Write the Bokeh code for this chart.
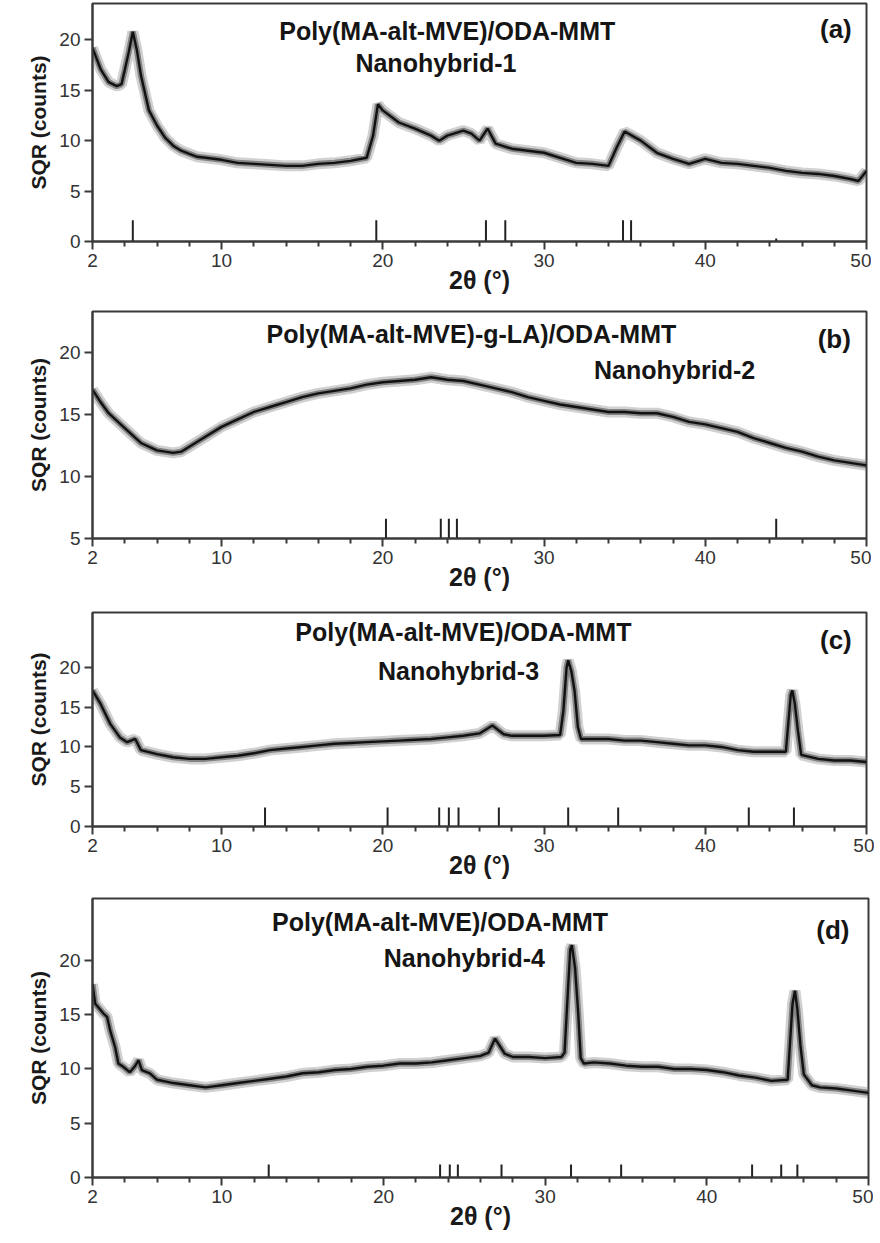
from bokeh.plotting import figure
from bokeh.layouts import column
from bokeh.models import FixedTicker, Range1d, ColumnDataSource
from bokeh.core.properties import value
from bokeh.embed import file_html
from bokeh.resources import INLINE

# ---------------- data ----------------
x_ticks = [2, 10, 20, 30, 40, 50]
x_minor = [4, 6, 8, 12, 14, 16, 18, 22, 24, 26, 28, 32, 34, 36, 38, 42, 44, 46, 48]

# (a) Nanohybrid-1
two_theta_a = [2, 2.5, 3, 3.5, 3.8, 4.0, 4.25, 4.5, 4.75, 5.0, 5.5, 6, 6.5, 7, 7.5, 8, 8.5, 9,
               10, 11, 12, 13, 14, 15, 16, 17, 18, 19, 19.4, 19.7, 20, 21, 22, 23, 23.5, 24, 25,
               25.5, 26, 26.5, 27, 28, 29, 30, 31, 32, 33, 34, 34.5, 35, 36, 37, 38, 39, 40, 41,
               42, 43, 44, 45, 46, 47, 48, 49, 49.5, 50]
sqr_a = [19.2, 17.1, 15.8, 15.4, 15.6, 17.0, 18.8, 20.8, 19.0, 16.5, 13.0, 11.5, 10.3, 9.5, 9.0,
         8.7, 8.4, 8.3, 8.1, 7.8, 7.7, 7.6, 7.5, 7.5, 7.7, 7.8, 8.0, 8.3, 10.5, 13.6, 13.0, 11.8,
         11.2, 10.5, 10.0, 10.5, 11.0, 10.7, 10.0, 11.2, 9.7, 9.2, 9.0, 8.8, 8.3, 7.8, 7.7, 7.5,
         9.3, 10.9, 10.0, 8.8, 8.2, 7.7, 8.2, 7.8, 7.7, 7.5, 7.3, 7.0, 6.8, 6.7, 6.5, 6.2, 6.0, 7.0]
ref_a = [4.5, 19.6, 26.4, 27.6, 34.9, 35.4, 44.4]
ref_h_a = [2.1, 2.1, 2.1, 2.1, 2.1, 2.1, 0.3]

# (b) Nanohybrid-2
two_theta_b = [2, 2.5, 3, 4, 5, 6, 7, 7.5, 8, 9] + list(range(10, 51))
sqr_b = [17.0, 16.0, 15.1, 13.9, 12.7, 12.1, 11.9, 12.0, 12.4, 13.2,
         14.0, 14.6, 15.2, 15.6, 16.0, 16.4, 16.7, 16.9, 17.1, 17.4, 17.6, 17.7, 17.8, 18.0,
         17.8, 17.7, 17.4, 17.1, 16.8, 16.4, 16.1, 15.8, 15.6, 15.4, 15.2, 15.2, 15.1, 15.1,
         14.8, 14.4, 14.2, 13.9, 13.6, 13.1, 12.7, 12.3, 12.0, 11.6, 11.3, 11.1, 10.9]
ref_b = [20.2, 23.6, 24.1, 24.6, 44.4]
ref_h_b = [1.6, 1.6, 1.6, 1.6, 1.6]

# (c) Nanohybrid-3
two_theta_c = [2, 2.5, 3.1, 3.7, 4.15, 4.65, 5.0, 6, 7, 8, 9, 10, 11, 12, 13, 14, 15, 16, 17, 18,
               19, 20, 21, 22, 23, 24, 25, 26, 26.8, 27.5, 28, 29, 30, 31, 31.2, 31.4, 31.5,
               31.7, 31.9, 32.1, 32.3, 33, 34, 35, 36, 37, 38, 39, 40, 41, 42, 43, 44, 45,
               45.15, 45.3, 45.4, 45.55, 45.75, 45.95, 47, 48, 49, 50]
sqr_c = [17.1, 15.4, 12.9, 11.2, 10.6, 11.0, 9.6, 9.1, 8.7, 8.5, 8.5, 8.7, 8.9, 9.2, 9.6, 9.8,
         10.0, 10.2, 10.4, 10.5, 10.6, 10.7, 10.8, 10.9, 11.0, 11.2, 11.4, 11.7, 12.7, 11.6,
         11.4, 11.4, 11.4, 11.5, 14.5, 20.0, 20.9, 19.5, 17.0, 12.5, 11.0, 11.0, 11.0, 10.8,
         10.8, 10.6, 10.4, 10.2, 10.2, 10.0, 9.6, 9.4, 9.4, 9.4, 13.0, 16.5, 17.1, 15.5, 12.0,
         9.0, 8.5, 8.3, 8.3, 8.1]
ref_c = [12.7, 20.3, 23.5, 24.1, 24.7, 27.2, 31.5, 34.6, 42.7, 45.5]
ref_h_c = [2.4] * 10

# (d) Nanohybrid-4
two_theta_d = [2, 2.17, 2.68, 2.9, 3.1, 3.4, 3.6, 3.9, 4.3, 4.6, 4.85, 5.05, 5.55, 6.0,
               7, 8, 9, 10, 11, 12, 13, 14, 15, 16, 17, 18, 19, 20, 21, 22, 23, 24, 25, 26,
               26.5, 26.9, 27.5, 28, 29, 30, 31, 31.2, 31.4, 31.55, 31.65, 31.85, 32.05, 32.2,
               32.4, 33, 34, 35, 36, 37, 38, 39, 40, 41, 42, 43, 44, 45, 45.15, 45.3, 45.45,
               45.6, 45.8, 46.0, 46.5, 47, 48, 49, 50]
sqr_d = [17.8, 16.0, 15.1, 14.8, 13.5, 12.0, 10.5, 10.2, 9.7, 10.2, 10.8, 9.9, 9.6, 9.0,
         8.7, 8.5, 8.3, 8.5, 8.7, 8.9, 9.1, 9.3, 9.6, 9.7, 9.9, 10.0, 10.2, 10.3, 10.5, 10.5,
         10.6, 10.8, 11.0, 11.2, 11.5, 12.8, 11.4, 11.1, 11.1, 11.0, 11.1, 11.5, 17.0, 21.0,
         21.4, 19.3, 15.0, 11.0, 10.5, 10.6, 10.5, 10.3, 10.2, 10.2, 10.0, 10.0, 9.9, 9.7,
         9.4, 9.2, 8.9, 9.0, 12.5, 16.0, 17.2, 15.5, 12.0, 9.5, 8.5, 8.3, 8.2, 8.0, 7.8]
ref_d = [12.9, 23.5, 24.1, 24.6, 27.3, 31.6, 34.7, 42.8, 44.6, 45.6]
ref_h_d = [1.2] * 10

FONT = "Liberation Sans"


def panel(xs, ys, refs, ref_h, base, ytop, yticks, left, fw, fh, top, bottom,
          title, title_xy, sub, sub_xy, tag, tag_xy):
    p = figure(frame_width=fw, frame_height=fh, output_backend="svg",
               toolbar_location=None, x_range=Range1d(2, 50), y_range=Range1d(base, ytop),
               min_border_left=left, min_border_right=8, min_border_top=top,
               min_border_bottom=bottom)
    p.grid.visible = False
    p.outline_line_color = "#3a3a3a"
    p.outline_line_width = 2
    p.background_fill_color = "white"
    p.border_fill_color = "white"

    p.xaxis.ticker = FixedTicker(ticks=x_ticks, minor_ticks=x_minor)
    p.yaxis.ticker = FixedTicker(ticks=yticks)
    for ax in (p.xaxis, p.yaxis):
        ax.axis_line_color = "#3a3a3a"
        ax.axis_line_width = 2
        ax.major_tick_line_color = "#3a3a3a"
        ax.major_tick_line_width = 2
        ax.major_tick_in = 0
        ax.major_tick_out = 8
        ax.major_label_text_font = FONT
        ax.major_label_text_font_size = "19px"
        ax.major_label_text_color = "#333333"
        ax.axis_label_text_font = FONT
        ax.axis_label_text_font_style = "bold"
        ax.axis_label_text_color = "#1a1a1a"
    p.xaxis.minor_tick_line_color = "#3a3a3a"
    p.xaxis.minor_tick_line_width = 2
    p.xaxis.minor_tick_in = 0
    p.xaxis.minor_tick_out = 5
    p.xaxis.major_label_standoff = 4
    p.yaxis.minor_tick_line_color = None
    p.yaxis.major_label_standoff = 4
    p.xaxis.axis_label = "2θ (°)"
    p.xaxis.axis_label_text_font_size = "25px"
    p.xaxis.axis_label_standoff = -4
    p.yaxis.axis_label = "SQR (counts)"
    p.yaxis.axis_label_text_font_size = "21px"
    p.yaxis.axis_label_standoff = 6

    src = ColumnDataSource(dict(x=xs, y=ys))
    p.line("x", "y", source=src, line_color="#7a7a7a", line_width=11, line_alpha=0.35)
    p.line("x", "y", source=src, line_color="#444444", line_width=6, line_alpha=0.55)
    p.line("x", "y", source=src, line_color="#111111", line_width=2.4)

    rs = ColumnDataSource(dict(x=refs, y0=[base] * len(refs),
                               y1=[base + h for h in ref_h]))
    p.segment(x0="x", y0="y0", x1="x", y1="y1", source=rs, line_color="#222222",
              line_width=2)

    p.text(x=[title_xy[0], sub_xy[0]], y=[title_xy[1], sub_xy[1]], text=[title, sub],
           text_font=value(FONT), text_font_style="bold", text_font_size="25px",
           text_align="center", text_baseline="middle", text_color="#151515")
    p.text(x=[tag_xy[0]], y=[tag_xy[1]], text=[tag], text_font=value(FONT),
           text_font_style="bold", text_font_size="26px", text_align="center",
           text_baseline="middle", text_color="#151515")
    return p


pa = panel(two_theta_a, sqr_a, ref_a, ref_h_a, 0, 23.6, [0, 5, 10, 15, 20],
           89, 774, 238, 3, 67,
           "Poly(MA-alt-MVE)/ODA-MMT", (24.0, 20.9), "Nanohybrid-1", (23.3, 17.7),
           "(a)", (48.1, 21.1))
pb = panel(two_theta_b, sqr_b, ref_b, ref_h_b, 5, 23.3, [5, 10, 15, 20],
           89, 774, 227, 3, 71,
           "Poly(MA-alt-MVE)-g-LA)/ODA-MMT", (25.5, 21.5), "Nanohybrid-2", (38.1, 18.6),
           "(b)", (48.0, 21.1))
pc = panel(two_theta_c, sqr_c, ref_c, ref_h_c, 0, 26.9, [0, 5, 10, 15, 20],
           92, 774, 214, 3, 69,
           "Poly(MA-alt-MVE)/ODA-MMT", (25.0, 24.4), "Nanohybrid-3", (24.7, 19.6),
           "(c)", (48.1, 23.4))
pd_ = panel(two_theta_d, sqr_d, ref_d, ref_h_d, 0, 25.7, [0, 5, 10, 15, 20],
            89, 776, 279, 3, 60,
            "Poly(MA-alt-MVE)/ODA-MMT", (23.5, 23.5), "Nanohybrid-4", (25.0, 20.2),
            "(d)", (47.8, 22.8))

layout = column(pa, pb, pc, pd_, spacing=0)
open("out.html", "w").write(file_html(layout, INLINE))
